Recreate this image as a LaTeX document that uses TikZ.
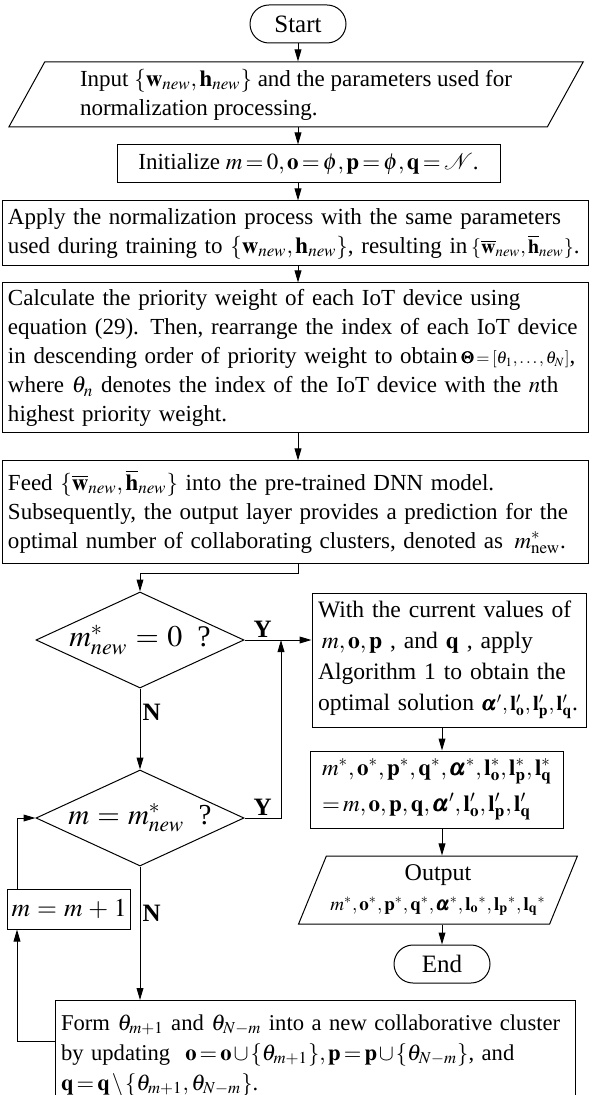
\documentclass[tikz,border=0pt]{standalone}
\usepackage{amsmath}
\usepackage{mathptmx}
\usepackage[no-math]{fontspec}
\setmainfont{Liberation Serif}
\usetikzlibrary{shapes.geometric,arrows.meta}
\thickmuskip=2.5mu plus 1mu
\medmuskip=1.5mu plus 1mu
\newcommand{\widemath}{\thickmuskip=5mu plus 5mu\medmuskip=4mu plus 2mu}

\begin{document}
\begin{tikzpicture}[x=0.5pt,y=-0.5pt,>={Triangle[length=6pt,width=3.4pt]},line width=0.5pt,
      term/.style={draw,rounded corners=9.5pt,minimum width=48pt,minimum height=19pt,inner sep=0pt,font=\fontsize{12.5}{15}\selectfont},
      io/.style={draw,trapezium,trapezium stretches=true,inner sep=2pt,align=left,font=\fontsize{11.5}{14.5}\selectfont},
      proc/.style={draw,rectangle,inner xsep=3pt,inner ysep=2pt,align=left,font=\fontsize{11.5}{14.5}\selectfont},
      test/.style={draw,diamond,aspect=2.17,minimum width=104pt,minimum height=48pt,inner sep=0pt,font=\fontsize{15}{18}\selectfont\widemath},
      yn/.style={font=\fontsize{12.5}{15}\selectfont\bfseries,inner sep=1pt}]
      \path[use as bounding box,fill=white] (0,0) rectangle (591,1095);

      % main column
      \node[term] (start) at (298,24) {Start};
      \node[io,trapezium left angle=62,trapezium right angle=118,minimum width=288pt,minimum height=32.5pt] (input) at (296,94.5)
        {Input $\{\mathbf{w}_{new},\mathbf{h}_{new}\}$ and the parameters used for\\ normalization processing.};
      \node[proc,align=center,minimum width=191.5pt,minimum height=19pt] (init) at (308.5,164)
        {Initialize $m=0,\mathbf{o}=\phi,\mathbf{p}=\phi,\mathbf{q}=\mathcal{N}$.};
      \node[proc,text width=287pt,minimum height=32.5pt] (apply) at (295,233.5)
        {Apply the normalization process with the same parameters\\ \mbox{used during training to $\{\mathbf{w}_{new},\mathbf{h}_{new}\}$, resulting in\,{\fontsize{10}{12}\selectfont$\{\overline{\mathbf{w}}_{new},\overline{\mathbf{h}}_{new}\}$}.}};
      \node[proc,text width=287pt,minimum height=75pt] (calc) at (295,358)
        {Calculate the priority weight of each IoT device using\\ equation (29). Then, rearrange the index of each IoT device\\ in descending order of priority weight to obtain\,{\fontsize{8.5}{10}\selectfont$\pmb{\Theta}=[\theta_1,\ldots,\theta_N]$},\\ where $\theta_n$ denotes the index of the IoT device with the $n$th\\ highest priority weight.};
      \node[proc,text width=287pt,minimum height=51pt] (feed) at (295,512)
        {Feed $\{\overline{\mathbf{w}}_{new},\overline{\mathbf{h}}_{new}\}$ into the pre-trained DNN model.\\ Subsequently, the output layer provides a prediction for the\\ optimal number of collaborating clusters, denoted as \,$m^*_{\mathrm{new}}$.};

      % decisions and loop
      \node[test] (dec1) at (140,640) {$m^*_{new}=0$\ \ ?};
      \node[test,font=\fontsize{14.5}{18}\selectfont\widemath] (dec2) at (140,818) {$m=m^*_{new}$\ \ ?};
      \node[proc,align=center,anchor=west,minimum width=59pt,minimum height=20pt,inner xsep=2pt,font=\fontsize{12.8}{16}\selectfont\widemath] (inc) at (7,909) {$m=m+1$};
      \node[proc,text width=254pt,minimum height=55pt,anchor=north,font=\fontsize{11.3}{15}\selectfont] (form) at (315,1000)
        {Form $\theta_{m+1}$ and $\theta_{N-m}$ into a new collaborative cluster\\ by updating \ $\mathbf{o}=\mathbf{o}\cup\{\theta_{m+1}\},\mathbf{p}=\mathbf{p}\cup\{\theta_{N-m}\}$, and\\ $\mathbf{q}=\mathbf{q}\setminus\{\theta_{m+1},\theta_{N-m}\}$.};

      % right column
      \node[proc,text width=131pt,minimum height=67pt,font=\fontsize{11.8}{15.5}\selectfont] (cur) at (449,660)
        {With the current values of\\ \,$m,\mathbf{o},\mathbf{p}$ , and $\mathbf{q}$ , apply\\ Algorithm 1 to obtain the\\ \mbox{optimal solution {\fontsize{10.5}{12}\selectfont$\pmb{\alpha}',\mathbf{l}'_{\mathbf{o}},\mathbf{l}'_{\mathbf{p}},\mathbf{l}'_{\mathbf{q}}$}.}};
      \node[proc,inner xsep=6pt,minimum width=125pt,minimum height=38.5pt,font=\fontsize{11.5}{15}\selectfont] (res) at (437,789.5)
        {$m^*,\mathbf{o}^*,\mathbf{p}^*,\mathbf{q}^*,\pmb{\alpha}^*,\mathbf{l}^*_{\mathbf{o}},\mathbf{l}^*_{\mathbf{p}},\mathbf{l}^*_{\mathbf{q}}$\\[3pt]
         $=m,\mathbf{o},\mathbf{p},\mathbf{q},\pmb{\alpha}',\mathbf{l}'_{\mathbf{o}},\mathbf{l}'_{\mathbf{p}},\mathbf{l}'_{\mathbf{q}}$};
      \node[io,align=center,trapezium left angle=65,trapezium right angle=115,minimum width=136pt,minimum height=34pt,font=\fontsize{12}{15}\selectfont] (out) at (438,890)
        {Output\\ {\fontsize{9.5}{12}\selectfont$m^*,\mathbf{o}^*,\mathbf{p}^*,\mathbf{q}^*,\pmb{\alpha}^*,\mathbf{l}_{\mathbf{o}}{}^*,\mathbf{l}_{\mathbf{p}}{}^*,\mathbf{l}_{\mathbf{q}}{}^*$}};
      \node[term] (end) at (442,964) {End};

      \coordinate (join) at (281,640);
      \coordinate (lp) at (17,1041);

      \path[->]
        (start.south) edge (start.south |- input.north)
        (input.south -| start) edge (init.north -| start)
        (init.south -| start) edge (apply.north -| start)
        (apply.south -| start) edge (calc.north -| start)
        (calc.south -| start) edge (feed.north -| start)
        (dec1.south) edge node[yn,right,pos=0.3] {N} (dec2.north)
        (dec1.east) edge node[yn,above,pos=0.27] {Y} (dec1.east -| cur.west)
        (dec2.south) edge node[yn,right,pos=0.35] {N} (dec2.south |- form.north)
        (cur.south -| end) edge (res.north -| end)
        (res.south -| end) edge (out.north -| end)
        (out.south -| end) edge (end);
      \draw[->] (feed.south -| start) -- ++(0,10) -| (dec1.north);
      \draw[->] (dec2.east) -| node[yn,above,pos=0.25] {Y} (join);
      \draw[->] (form.west |- lp) -- (lp) -- (lp |- inc.south);
      \draw[->] (lp |- inc.north) |- (dec2.west);
\end{tikzpicture}
\end{document}
